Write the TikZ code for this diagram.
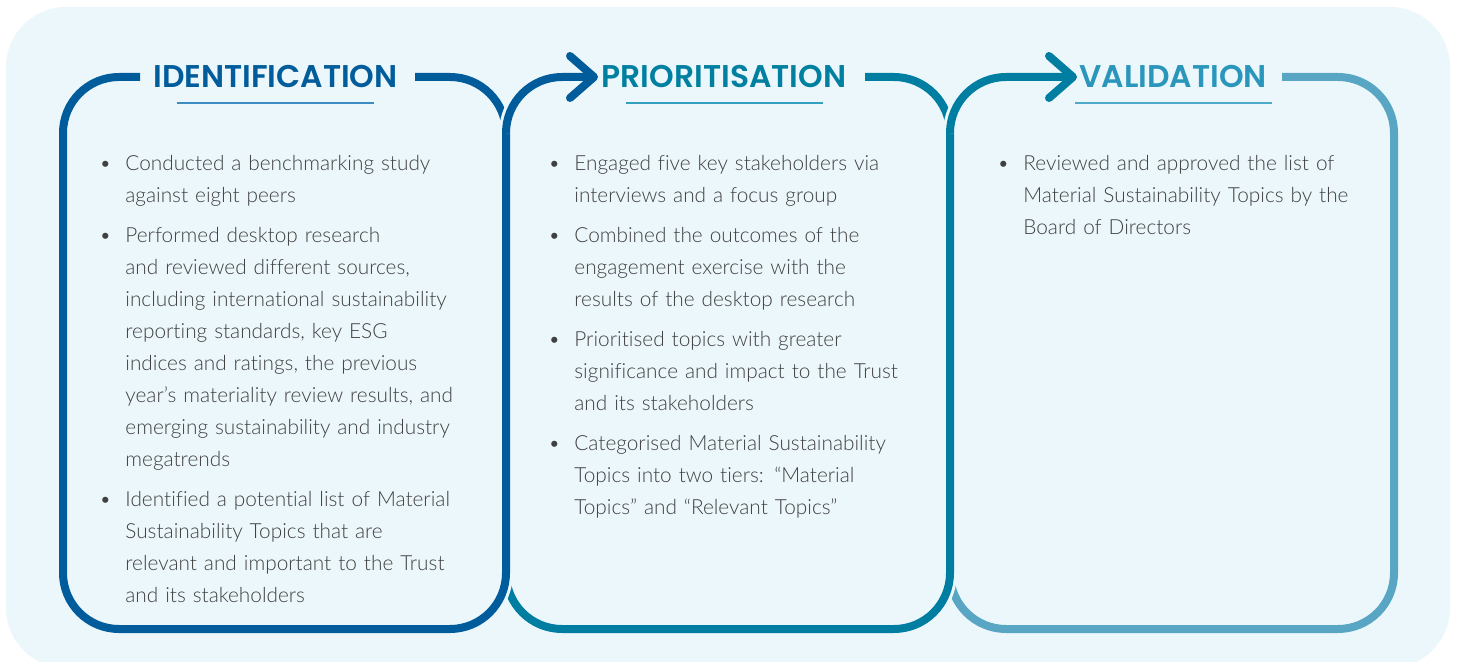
\documentclass[tikz,border=0pt]{standalone}
\usepackage{fontspec}
\setmainfont{Lato}
\newfontfamily\bodyfont{Lato Light}[Ligatures=NoCommon]
\newfontfamily\headfont{Poppins SemiBold}
\definecolor{panelcolor}{RGB}{236,247,252}
\definecolor{identcolor}{RGB}{0,92,155}
\definecolor{priocolor}{RGB}{0,126,161}
\definecolor{validcolor}{RGB}{88,166,195}
\definecolor{priotitle}{RGB}{0,128,160}
\definecolor{validtitle}{RGB}{42,150,188}
\definecolor{identrule}{RGB}{62,140,196}
\definecolor{priorule}{RGB}{52,160,192}
\definecolor{validrule}{RGB}{78,170,203}
\definecolor{bodycolor}{RGB}{64,64,64}

\begin{document}
\begin{tikzpicture}[
    x=0.5pt, y=0.5pt, yscale=-1,
    edge/.style={line width=4pt, rounded corners=28pt, preaction={draw=panelcolor, line width=7pt}},
    head/.style={line width=4pt, line cap=round, line join=round},
    title/.style={font=\headfont\fontsize{15.7}{19}\selectfont, inner sep=0pt, anchor=base},
    rule/.style={line width=1pt},
    item/.style={font=\bodyfont\fontsize{10.4}{16}\selectfont, text=bodycolor, inner sep=0pt, anchor=base west, text width=210pt, align=left}
]
    \useasboundingbox (0,0) rectangle (1457,662);
    \fill[panelcolor, rounded corners=30pt] (6,7) rectangle (1450,668);

    % Titles
    \node[title, text=identcolor] (ident) at (275.5,88) {IDENTIFICATION};
    \node[title, text=priotitle] (prio) at (724,88) {PRIORITISATION};
    \node[title, text=validtitle] (valid) at (1173,88) {VALIDATION};
    \draw[rule, identrule] (ident.base) ++(-98.5,15) -- ++(197,0);
    \draw[rule, priorule] (prio.base) ++(-98.5,15) -- ++(197,0);
    \draw[rule, validrule] (valid.base) ++(-98.5,15) -- ++(197,0);

    \coordinate (priotip) at (594,77);
    \coordinate (validtip) at (1073,77);

    % Outlines
    \draw[edge, validcolor] (1282,77) -- (1394,77) -- (1394,629) -- (950,629) -- (950,573);
    \draw[edge, priocolor] (865,77) -- (950,77) -- (950,629) -- (506,629) -- (506,573);
    \draw[edge, identcolor] (140,77) -- (63,77) -- (63,629) -- (506,629) -- (506,77) -- (415,77);
    \draw[edge, identcolor] (506,133) -- (506,77) -- (priotip);
    \draw[edge, priocolor] (950,133) -- (950,77) -- (validtip);
    \draw[head, identcolor] (priotip) ++(-24,-21) -- (priotip) -- ++(-24,21);
    \draw[head, priocolor] (validtip) ++(-24,-21) -- (validtip) -- ++(-24,21);

    % Identification
    \node[item] (ident1) at (125,171) {\llap{\textbullet\hspace{7pt}}Conducted a benchmarking study\\against eight peers};
    \node[item] (ident2) at (125,243) {\llap{\textbullet\hspace{7pt}}Performed desktop research\\and reviewed different sources,\\including international sustainability\\reporting standards, key ESG\\indices and ratings, the previous\\year’s materiality review results, and\\emerging sustainability and industry\\megatrends};
    \node[item] (ident3) at (125,507) {\llap{\textbullet\hspace{7pt}}Identified a potential list of Material\\Sustainability Topics that are\\relevant and important to the Trust\\and its stakeholders};

    % Prioritisation
    \node[item] (prio1) at (574,171) {\llap{\textbullet\hspace{7pt}}Engaged five key stakeholders via\\interviews and a focus group};
    \node[item] (prio2) at (574,243) {\llap{\textbullet\hspace{7pt}}Combined the outcomes of the\\engagement exercise with the\\results of the desktop research};
    \node[item] (prio3) at (574,347) {\llap{\textbullet\hspace{7pt}}Prioritised topics with greater\\significance and impact to the Trust\\and its stakeholders};
    \node[item] (prio4) at (574,451) {\llap{\textbullet\hspace{7pt}}Categorised Material Sustainability\\Topics into two tiers: “Material\\Topics” and “Relevant Topics”};

    % Validation
    \node[item] (valid1) at (1023,171) {\llap{\textbullet\hspace{7pt}}Reviewed and approved the list of\\Material Sustainability Topics by the\\Board of Directors};
\end{tikzpicture}
\end{document}
